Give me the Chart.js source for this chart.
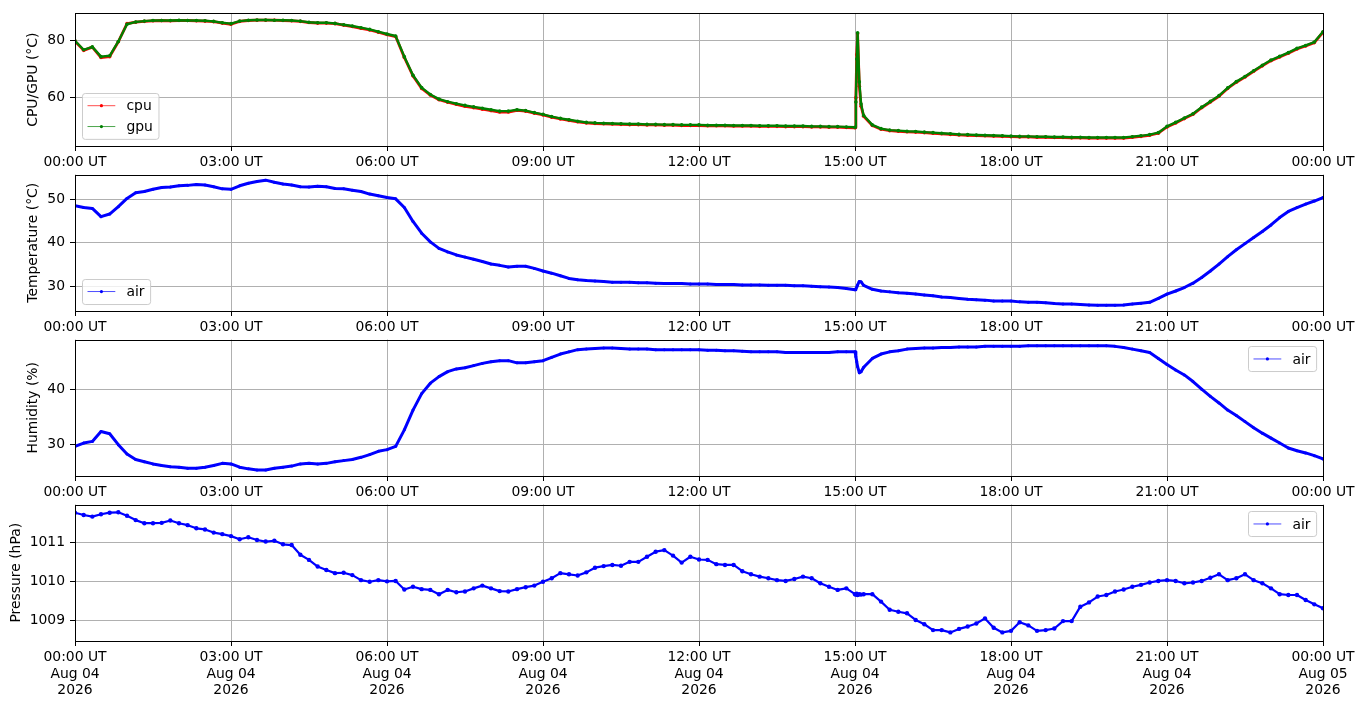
<!DOCTYPE html>
<html>
<head>
<meta charset="utf-8">
<title>Sensor log</title>
<script src="https://cdn.jsdelivr.net/npm/chart.js@4.4.1/dist/chart.umd.min.js"></script>
<style>
  html, body { margin: 0; padding: 0; background: #fff; }
  #wrap { position: relative; width: 1364px; height: 707px; }
  #wrap canvas { position: absolute; left: 0; top: 0; }
</style>
</head>
<body>
<div id="wrap">
  <canvas id="cpuChart" width="1364" height="707"></canvas>
  <canvas id="tempChart" width="1364" height="707"></canvas>
  <canvas id="humChart" width="1364" height="707"></canvas>
  <canvas id="presChart" width="1364" height="707"></canvas>
</div>
<script>
// sample times, minutes after 00:00 UT (extra samples around the 15:00 spike)
const minutes = [
  0, 10, 20, 30, 40, 50, 60, 70, 80, 90, 100, 110,
  120, 130, 140, 150, 160, 170, 180, 190, 200, 210, 220, 230,
  240, 250, 260, 270, 280, 290, 300, 310, 320, 330, 340, 350,
  360, 370, 380, 390, 400, 410, 420, 430, 440, 450, 460, 470,
  480, 490, 500, 510, 520, 530, 540, 550, 560, 570, 580, 590,
  600, 610, 620, 630, 640, 650, 660, 670, 680, 690, 700, 710,
  720, 730, 740, 750, 760, 770, 780, 790, 800, 810, 820, 830,
  840, 850, 860, 870, 880, 890,
  900, 901, 902, 903, 905, 907,
  910, 920, 930, 940, 950,
  960, 970, 980, 990, 1000, 1010, 1020, 1030, 1040, 1050, 1060, 1070,
  1080, 1090, 1100, 1110, 1120, 1130, 1140, 1150, 1160, 1170, 1180, 1190,
  1200, 1210, 1220, 1230, 1240, 1250, 1260, 1270, 1280, 1290, 1300, 1310,
  1320, 1330, 1340, 1350, 1360, 1370, 1380, 1390, 1400, 1410, 1420, 1430,
  1440
];

const cpuTemp = [
  79.7, 76.5, 77.6, 74.0, 74.3, 79.5, 85.8, 86.3, 86.6, 86.8, 86.9, 86.8,
  86.9, 86.9, 86.8, 86.7, 86.5, 86.0, 85.6, 86.6, 86.9, 87.0, 87.0, 87.0,
  86.9, 86.8, 86.6, 86.2, 86.0, 86.0, 85.8, 85.3, 84.8, 84.2, 83.6, 82.8,
  82.0, 81.3, 74.0, 67.6, 63.2, 60.9, 59.3, 58.4, 57.7, 57.0, 56.5, 56.0,
  55.5, 55.0, 55.0, 55.6, 55.3, 54.6, 54.0, 53.2, 52.6, 52.1, 51.6, 51.2,
  51.0, 50.9, 50.8, 50.7, 50.6, 50.6, 50.5, 50.5, 50.4, 50.4, 50.3, 50.3,
  50.3, 50.2, 50.2, 50.2, 50.1, 50.1, 50.1, 50.0, 50.0, 50.0, 49.9, 49.9,
  49.9, 49.8, 49.8, 49.7, 49.7, 49.6,
  49.5, 60.0, 75.0, 82.3, 64.0, 57.0,
  53.5, 50.3, 49.0, 48.5, 48.3,
  48.1, 48.0, 47.8, 47.6, 47.4, 47.2, 47.0, 46.9, 46.8, 46.7, 46.6, 46.5,
  46.4, 46.3, 46.3, 46.2, 46.2, 46.1, 46.1, 46.0, 46.0, 45.9, 45.9, 45.9,
  45.9, 45.9, 46.2, 46.5, 46.9, 47.6, 49.8, 51.2, 52.7, 54.2, 56.5, 58.5,
  60.5, 63.2, 65.4, 67.2, 69.2, 71.1, 72.9, 74.2, 75.5, 77.0, 78.0, 79.2,
  82.8
];

const gpuTemp = [
  79.8, 76.7, 77.7, 74.3, 74.6, 79.6, 85.6, 86.4, 86.7, 86.9, 86.9, 86.9,
  87.0, 86.9, 86.9, 86.8, 86.6, 86.1, 85.8, 86.7, 87.0, 87.1, 87.1, 87.0,
  87.0, 86.9, 86.7, 86.3, 86.1, 86.1, 85.9, 85.4, 85.0, 84.4, 83.8, 83.0,
  82.2, 81.5, 74.3, 67.8, 63.5, 61.1, 59.5, 58.6, 57.9, 57.3, 56.8, 56.3,
  55.8, 55.3, 55.3, 55.8, 55.5, 54.8, 54.2, 53.4, 52.8, 52.3, 51.8, 51.4,
  51.2, 51.1, 51.0, 50.9, 50.8, 50.8, 50.7, 50.7, 50.6, 50.6, 50.5, 50.5,
  50.5, 50.4, 50.4, 50.4, 50.3, 50.3, 50.3, 50.2, 50.2, 50.2, 50.1, 50.1,
  50.1, 50.0, 50.0, 49.9, 49.9, 49.8,
  49.7, 58.5, 73.5, 82.6, 65.5, 57.8,
  53.8, 50.5, 49.2, 48.7, 48.5,
  48.3, 48.2, 48.0, 47.8, 47.6, 47.4, 47.2, 47.1, 47.0, 46.9, 46.8, 46.7,
  46.6, 46.5, 46.5, 46.4, 46.4, 46.3, 46.3, 46.2, 46.2, 46.1, 46.1, 46.1,
  46.1, 46.1, 46.4, 46.7, 47.1, 47.8, 50.0, 51.4, 52.9, 54.4, 56.7, 58.7,
  60.7, 63.4, 65.6, 67.4, 69.4, 71.3, 73.1, 74.4, 75.7, 77.2, 78.2, 79.4,
  83.0
];

const airTemp = [
  48.5, 48.1, 47.9, 46.0, 46.6, 48.3, 50.2, 51.5, 51.8, 52.3, 52.7, 52.8,
  53.1, 53.2, 53.4, 53.3, 52.9, 52.4, 52.3, 53.1, 53.7, 54.1, 54.4, 53.9,
  53.5, 53.3, 52.9, 52.8, 53.0, 52.9, 52.5, 52.4, 52.1, 51.8, 51.2, 50.8,
  50.4, 50.1, 48.1, 44.9, 42.2, 40.2, 38.7, 37.9, 37.2, 36.7, 36.2, 35.7,
  35.1, 34.8, 34.4, 34.6, 34.6, 34.1, 33.5, 33.0, 32.4, 31.8, 31.5, 31.3,
  31.2, 31.1, 30.9, 30.9, 30.9, 30.8, 30.8, 30.7, 30.6, 30.6, 30.6, 30.5,
  30.5, 30.5, 30.4, 30.4, 30.4, 30.3, 30.3, 30.3, 30.2, 30.2, 30.2, 30.1,
  30.1, 30.0, 29.9, 29.8, 29.7, 29.5,
  29.2, 29.4, 29.8, 30.3, 31.1, 31.0,
  30.2, 29.3, 28.9, 28.7, 28.5,
  28.4, 28.2, 28.0, 27.8, 27.5, 27.4, 27.2, 27.0, 26.9, 26.8, 26.6, 26.6,
  26.6, 26.4, 26.3, 26.3, 26.2, 26.0, 25.9, 25.9, 25.8, 25.7, 25.6, 25.6,
  25.6, 25.7, 25.9, 26.1, 26.3, 27.2, 28.2, 28.9, 29.7, 30.7, 32.0, 33.5,
  35.1, 36.8, 38.4, 39.8, 41.2, 42.6, 44.1, 45.8, 47.2, 48.1, 48.9, 49.6,
  50.4
];

const humidity = [
  29.6, 30.2, 30.5, 32.3, 31.9, 29.9, 28.2, 27.2, 26.8, 26.4, 26.1, 25.9,
  25.8, 25.6, 25.6, 25.8, 26.1, 26.5, 26.4, 25.8, 25.5, 25.3, 25.3, 25.6,
  25.8, 26.0, 26.4, 26.5, 26.4, 26.5, 26.8, 27.0, 27.2, 27.6, 28.1, 28.7,
  29.0, 29.6, 32.6, 36.2, 39.2, 41.1, 42.3, 43.2, 43.7, 43.9, 44.3, 44.7,
  45.0, 45.2, 45.2, 44.8, 44.8, 45.0, 45.2, 45.8, 46.4, 46.8, 47.2, 47.3,
  47.4, 47.5, 47.5, 47.4, 47.3, 47.3, 47.3, 47.2, 47.2, 47.2, 47.2, 47.2,
  47.2, 47.1, 47.1, 47.0, 47.0, 46.9, 46.8, 46.8, 46.8, 46.8, 46.7, 46.7,
  46.7, 46.7, 46.7, 46.7, 46.8, 46.8,
  46.8, 45.9, 45.0, 44.1, 43.0, 43.2,
  44.0, 45.6, 46.4, 46.8, 47.0,
  47.3, 47.4, 47.5, 47.5, 47.6, 47.6, 47.7, 47.7, 47.7, 47.8, 47.8, 47.8,
  47.8, 47.8, 47.9, 47.9, 47.9, 47.9, 47.9, 47.9, 47.9, 47.9, 47.9, 47.9,
  47.8, 47.6, 47.3, 47.0, 46.7, 45.6, 44.5, 43.5, 42.6, 41.4, 40.0, 38.7,
  37.5, 36.2, 35.2, 34.1, 33.0, 32.0, 31.1, 30.2, 29.3, 28.8, 28.4, 27.9,
  27.3
];

const pressure = [
  1011.76, 1011.70, 1011.66, 1011.72, 1011.76, 1011.77, 1011.68, 1011.57, 1011.49, 1011.49, 1011.50, 1011.56,
  1011.49, 1011.44, 1011.36, 1011.33, 1011.25, 1011.21, 1011.16, 1011.08, 1011.13, 1011.06, 1011.02, 1011.04,
  1010.95, 1010.93, 1010.68, 1010.55, 1010.38, 1010.29, 1010.21, 1010.22, 1010.16, 1010.03, 1009.99, 1010.03,
  1010.00, 1010.01, 1009.79, 1009.86, 1009.80, 1009.78, 1009.67, 1009.78, 1009.72, 1009.74, 1009.82, 1009.89,
  1009.82, 1009.75, 1009.74, 1009.80, 1009.85, 1009.89, 1009.99, 1010.08, 1010.21, 1010.18, 1010.15, 1010.23,
  1010.35, 1010.39, 1010.42, 1010.40, 1010.50, 1010.50, 1010.63, 1010.76, 1010.80, 1010.66, 1010.48, 1010.63,
  1010.56, 1010.55, 1010.44, 1010.42, 1010.42, 1010.26, 1010.18, 1010.12, 1010.08, 1010.03, 1010.01, 1010.06,
  1010.12, 1010.08, 1009.95, 1009.86, 1009.78, 1009.82,
  1009.67, 1009.66, 1009.68, 1009.65, 1009.67, 1009.66,
  1009.67, 1009.67, 1009.48, 1009.27, 1009.22,
  1009.18, 1009.01, 1008.90, 1008.75, 1008.75, 1008.69, 1008.78, 1008.84, 1008.92, 1009.05, 1008.81, 1008.69,
  1008.73, 1008.95, 1008.87, 1008.73, 1008.75, 1008.79, 1008.98, 1008.98, 1009.35, 1009.46, 1009.61, 1009.65,
  1009.74, 1009.79, 1009.86, 1009.91, 1009.97, 1010.01, 1010.03, 1010.01, 1009.95, 1009.97, 1010.01, 1010.09,
  1010.18, 1010.03, 1010.08, 1010.18, 1010.03, 1009.95, 1009.82, 1009.67, 1009.65, 1009.65, 1009.52, 1009.41,
  1009.31
];

// axis ticks
const hourTicks = [0, 180, 360, 540, 720, 900, 1080, 1260, 1440];
const timeLabels = ['00:00 UT', '03:00 UT', '06:00 UT', '09:00 UT', '12:00 UT',
                    '15:00 UT', '18:00 UT', '21:00 UT', '00:00 UT'];
const dateLabels = ['Aug 04', 'Aug 04', 'Aug 04', 'Aug 04', 'Aug 04',
                    'Aug 04', 'Aug 04', 'Aug 04', 'Aug 05'];
const yearLabels = ['2026', '2026', '2026', '2026', '2026', '2026', '2026', '2026', '2026'];
const cpuTicks = [60, 80];
const tempTicks = [30, 40, 50];
const humTicks = [30, 40];
const presTicks = [1009, 1010, 1011];

const FS = 13.9;
Chart.defaults.font.family = "'DejaVu Sans', sans-serif";
Chart.defaults.font.size = FS;
Chart.defaults.color = '#000';

// legend drawn like matplotlib's: line + dot handle inside a rounded box
const mplLegend = {
  id: 'mplLegend',
  afterDraw(chart, args, opts) {
    const ctx = chart.ctx, a = chart.chartArea;
    const pad = 0.4 * FS, handleLen = 2 * FS, gap = 0.8 * FS, rowH = FS, spacing = 0.5 * FS, axPad = 0.5 * FS;
    const items = chart.data.datasets.map(d => ({ label: d.label, color: d.borderColor }));
    ctx.save();
    ctx.font = FS + "px 'DejaVu Sans'";
    const textW = Math.max(...items.map(it => ctx.measureText(it.label).width));
    const w = pad * 2 + handleLen + gap + textW;
    const h = pad * 2 + items.length * rowH + (items.length - 1) * spacing;
    const x = opts.loc === 'upper right' ? a.right - axPad - w : a.left + axPad;
    const y = opts.loc === 'upper right' ? a.top + axPad : a.bottom - axPad - h;
    ctx.beginPath();
    ctx.roundRect(Math.round(x) + 0.5, Math.round(y) + 0.5, w, h, 0.2 * FS);
    ctx.fillStyle = 'rgba(255,255,255,0.8)';
    ctx.fill();
    ctx.strokeStyle = '#cccccc';
    ctx.lineWidth = 1;
    ctx.stroke();
    items.forEach((it, i) => {
      const cy = y + pad + i * (rowH + spacing) + rowH / 2;
      const hx = x + pad;
      ctx.beginPath();
      ctx.moveTo(hx, cy);
      ctx.lineTo(hx + handleLen, cy);
      ctx.strokeStyle = it.color;
      ctx.lineWidth = 0.7;
      ctx.stroke();
      ctx.beginPath();
      ctx.arc(hx + handleLen / 2, cy, 1.6, 0, Math.PI * 2);
      ctx.fillStyle = it.color;
      ctx.fill();
      ctx.fillStyle = '#000';
      ctx.textBaseline = 'middle';
      ctx.fillText(it.label, hx + handleLen + gap, cy + 1);
    });
    ctx.restore();
  }
};

// black box round the plot area (replaces the axis borders)
const frame = {
  id: 'frame',
  afterDatasetsDraw(chart) {
    const ctx = chart.ctx, a = chart.chartArea;
    const l = Math.round(a.left), r = Math.round(a.right);
    const t = Math.round(a.top), b = Math.round(a.bottom);
    ctx.save();
    ctx.strokeStyle = '#000';
    ctx.lineWidth = 1;
    ctx.strokeRect(l + 0.5, t + 0.5, r - l, b - t);
    ctx.restore();
  }
};

function makePanel(id, cfg) {
  return new Chart(document.getElementById(id), {
    type: 'line',
    data: {
      datasets: cfg.series.map(s => ({
        label: s.label,
        data: minutes.map((m, i) => ({ x: m, y: s.values[i] })),
        borderColor: s.color,
        backgroundColor: s.color,
        borderWidth: s.lineWidth,
        borderJoinStyle: 'round',
        borderCapStyle: 'round',
        pointRadius: s.dot,
        pointBorderWidth: 0,
        pointBackgroundColor: s.color,
        order: s.order || 0,
        tension: 0
      }))
    },
    options: {
      responsive: false,
      animation: false,
      events: [],
      layout: { padding: { top: cfg.top, bottom: 707 - cfg.bottom - cfg.axisH, left: 0, right: 41 } },
      plugins: {
        legend: { display: false },
        tooltip: { enabled: false },
        mplLegend: { loc: cfg.legendLoc }
      },
      scales: {
        x: {
          type: 'linear', min: 0, max: 1440,
          afterBuildTicks: s => { s.ticks = hourTicks.map(v => ({ value: v })); },
          afterFit: s => { s.height = cfg.axisH; },
          ticks: { autoSkip: false, maxRotation: 0, padding: 3, callback: cfg.xLabel },
          grid: { color: '#b0b0b0', lineWidth: 1, tickLength: 5, tickColor: '#000' },
          border: { display: false }
        },
        y: {
          min: cfg.yMin, max: cfg.yMax,
          afterBuildTicks: s => { s.ticks = cfg.yTicks.map(v => ({ value: v })); },
          afterFit: s => { s.width = 75; },
          ticks: { padding: 5, callback: v => String(v) },
          grid: { color: '#b0b0b0', lineWidth: 1, tickLength: 5, tickColor: '#000' },
          border: { display: false },
          title: { display: true, text: cfg.yTitle, color: '#000', font: { size: FS },
                   padding: { top: cfg.titlePad, bottom: 0 } }
        }
      }
    },
    plugins: [frame, mplLegend]
  });
}

const plainTime = (v, i) => timeLabels[i];
const fullTime = (v, i) => [timeLabels[i], dateLabels[i], yearLabels[i]];

makePanel('cpuChart', {
  top: 9.5, bottom: 146, axisH: 40, yMin: 43.15, yMax: 89.4, yTicks: cpuTicks,
  yTitle: 'CPU/GPU (°C)', titlePad: 25, legendLoc: 'lower left', xLabel: plainTime,
  series: [
    { label: 'cpu', values: cpuTemp, color: '#ff0000', lineWidth: 2.8, dot: 1.8, order: 1 },
    { label: 'gpu', values: gpuTemp, color: '#008000', lineWidth: 2.4, dot: 1.8, order: 0 }
  ]
});

makePanel('tempChart', {
  top: 174.5, bottom: 311, axisH: 40, yMin: 24.3, yMax: 55.7, yTicks: tempTicks,
  yTitle: 'Temperature (°C)', titlePad: 25, legendLoc: 'lower left', xLabel: plainTime,
  series: [ { label: 'air', values: airTemp, color: '#0000ff', lineWidth: 3, dot: 1.5 } ]
});

makePanel('humChart', {
  top: 339.5, bottom: 476, axisH: 40, yMin: 24.2, yMax: 49.05, yTicks: humTicks,
  yTitle: 'Humidity (%)', titlePad: 25, legendLoc: 'upper right', xLabel: plainTime,
  series: [ { label: 'air', values: humidity, color: '#0000ff', lineWidth: 3, dot: 1.5 } ]
});

makePanel('presChart', {
  top: 504.5, bottom: 641, axisH: 66, yMin: 1008.47, yMax: 1011.97, yTicks: presTicks,
  yTitle: 'Pressure (hPa)', titlePad: 8, legendLoc: 'upper right', xLabel: fullTime,
  series: [ { label: 'air', values: pressure, color: '#0000ff', lineWidth: 2.2, dot: 2.2 } ]
});
</script>
</body>
</html>
